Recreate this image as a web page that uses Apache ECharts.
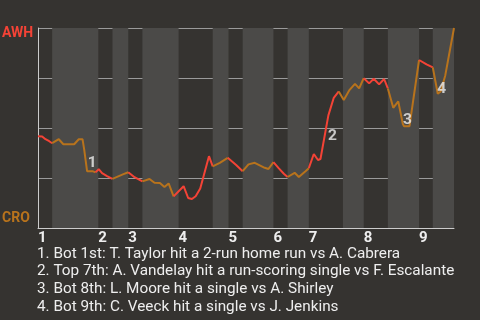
<!DOCTYPE html>
<html>
<head>
<meta charset="utf-8">
<script src="https://cdn.jsdelivr.net/npm/echarts@6/dist/echarts.min.js"></script>
<style>
html,body{margin:0;padding:0;background:#353330;}
#c{width:480px;height:320px;}
</style>
</head>
<body>
<div id="c"></div>
<script>
// ---- data ----
const teams = ['AWH', 'CRO'];
const innings = ['1', '2', '3', '4', '5', '6', '7', '8', '9'];
// boundaries of half-innings along game progress (top1, bot1, top2, ...)
const halfEdges = [0, 3.4, 14.5, 17.9, 21.7, 25.1, 33.8, 42, 45.8, 49.2, 56.6, 60, 65.1, 73.3, 78.3, 84.1, 91.6, 94.9, 100];
// game progress of each play
const playX = [0, 1.0, 1.8, 2.7, 3.4, 5.0, 6.1, 8.7, 9.8, 10.7, 11.1, 11.8, 13.1, 13.8, 14.6, 15.4, 16.6, 17.9, 20.4, 21.7,
  23.2, 25.1, 26.8, 28.0, 29.3, 30.4, 31.4, 32.6, 35.0, 36.1, 37.0, 37.9, 39.0, 41.1, 42.0, 43.7, 45.6, 47.7, 49.2, 50.6,
  52.1, 54.5, 55.4, 56.6, 57.9, 59.1, 60.0, 61.7, 62.7, 64.3, 65.1, 66.3, 67.3, 67.9, 69.8, 71.1, 72.3, 73.5, 74.8, 76.2,
  77.2, 78.3, 79.6, 80.7, 82.0, 83.2, 84.1, 85.4, 86.6, 87.7, 88.0, 89.3, 91.6, 93.4, 94.9, 96.1, 96.8, 97.9, 100];
// win probability (AWH at top = 1)
const winProb = [0.459, 0.458, 0.444, 0.434, 0.424, 0.444, 0.419, 0.419, 0.444, 0.444, 0.393, 0.284, 0.284, 0.278, 0.294, 0.274, 0.259, 0.246, 0.268, 0.279,
  0.254, 0.233, 0.245, 0.226, 0.225, 0.205, 0.223, 0.158, 0.209, 0.150, 0.145, 0.159, 0.198, 0.359, 0.308, 0.326, 0.351, 0.314, 0.284, 0.318,
  0.326, 0.301, 0.295, 0.329, 0.298, 0.271, 0.255, 0.276, 0.255, 0.284, 0.299, 0.370, 0.340, 0.345, 0.563, 0.651, 0.683, 0.640, 0.688, 0.721,
  0.698, 0.749, 0.723, 0.746, 0.718, 0.745, 0.698, 0.601, 0.633, 0.520, 0.509, 0.509, 0.840, 0.818, 0.803, 0.671, 0.683, 0.763, 1.0];
// key plays (index into plays)
const eventPlays = [11, 54, 71, 75];
const eventNames = ['1', '2', '3', '4'];
const eventTexts = [
  '1. Bot 1st: T. Taylor hit a 2-run home run vs A. Cabrera',
  '2. Top 7th: A. Vandelay hit a run-scoring single vs F. Escalante',
  '3. Bot 8th: L. Moore hit a single vs A. Shirley',
  '4. Bot 9th: C. Veeck hit a single vs J. Jenkins'
];

// ---- styles ----
const RED = '#f44336';
const ORANGE = '#b8731c';
const BG = '#353330';
const BAND = '#4b4a48';
const TXT = '#eeeeee';
const FONT = 'Roboto';

function halfOf(x) {
  for (let k = 0; k < halfEdges.length - 1; k++) {
    if (x <= halfEdges[k + 1] + 1e-9) return k;
  }
  return halfEdges.length - 2;
}

// split the line into runs by which team is batting
const points = playX.map((x, i) => [x, winProb[i]]);
const runs = [];
for (let i = 1; i < points.length; i++) {
  const top = halfOf(playX[i]) % 2 === 0;
  const last = runs[runs.length - 1];
  if (last && last.top === top) {
    last.data.push(points[i]);
  } else {
    runs.push({ top: top, data: [points[i - 1], points[i]] });
  }
}
const lineSeries = runs.map(r => ({
  type: 'line',
  data: r.data,
  symbol: 'none',
  lineStyle: { color: r.top ? RED : ORANGE, width: 2 },
  z: 3,
  silent: true,
  animation: false
}));

// shaded bottom-half bands
const bands = [];
for (let k = 1; k < halfEdges.length - 1; k += 2) {
  bands.push([{ xAxis: halfEdges[k] }, { xAxis: halfEdges[k + 1] }]);
}
const inningStarts = halfEdges.filter((v, k) => k % 2 === 0 && k < halfEdges.length - 1);

const labelOffsets = [[5, -8], [4, 21], [-2, -6], [4, -5]];
const eventSeries = {
  type: 'scatter',
  symbolSize: 0,
  z: 5,
  silent: true,
  animation: false,
  data: eventPlays.map((p, i) => ({
    value: points[p],
    label: {
      show: true, position: 'inside', offset: labelOffsets[i],
      formatter: eventNames[i], color: TXT, fontSize: 15.5, fontWeight: 'bold', fontFamily: FONT
    }
  }))
};

const bandSeries = {
  type: 'line',
  data: [],
  silent: true,
  animation: false,
  markArea: {
    silent: true,
    itemStyle: { color: BAND },
    data: bands
  }
};

const graphics = [
  { type: 'text', left: 2, top: 26, style: { text: teams[0], fill: RED, font: 'bold 14px ' + FONT } },
  { type: 'text', left: 2, top: 211, style: { text: teams[1], fill: ORANGE, font: 'bold 14px ' + FONT } }
];
eventTexts.forEach((t, i) => {
  graphics.push({ type: 'text', left: 37, top: 246.5 + i * 17.6, style: { text: t, fill: TXT, font: '15.3px ' + FONT } });
});

const chart = echarts.init(document.getElementById('c'), null, { renderer: 'canvas' });
chart.setOption({
  backgroundColor: BG,
  animation: false,
  grid: { left: 38, right: 26, top: 28, bottom: 92 },
  xAxis: {
    type: 'value', min: 0, max: 100,
    axisLine: { show: true, lineStyle: { color: '#cccccc', width: 1 } },
    axisTick: { show: false },
    splitLine: { show: false },
    axisLabel: {
      customValues: inningStarts,
      showMinLabel: true, showMaxLabel: true,
      align: 'left', margin: 2.5,
      color: TXT, fontSize: 15, fontWeight: 'bold', fontFamily: FONT,
      formatter: v => innings[inningStarts.indexOf(v)]
    }
  },
  yAxis: {
    type: 'value', min: 0, max: 1, interval: 0.25,
    axisLine: { show: true, lineStyle: { color: '#cccccc', width: 1 } },
    axisTick: { show: false },
    axisLabel: { show: false },
    splitLine: { show: true, lineStyle: { color: '#9a9a9a', width: 1 } }
  },
  graphic: graphics,
  series: [bandSeries].concat(lineSeries, [eventSeries])
});
</script>
</body>
</html>
